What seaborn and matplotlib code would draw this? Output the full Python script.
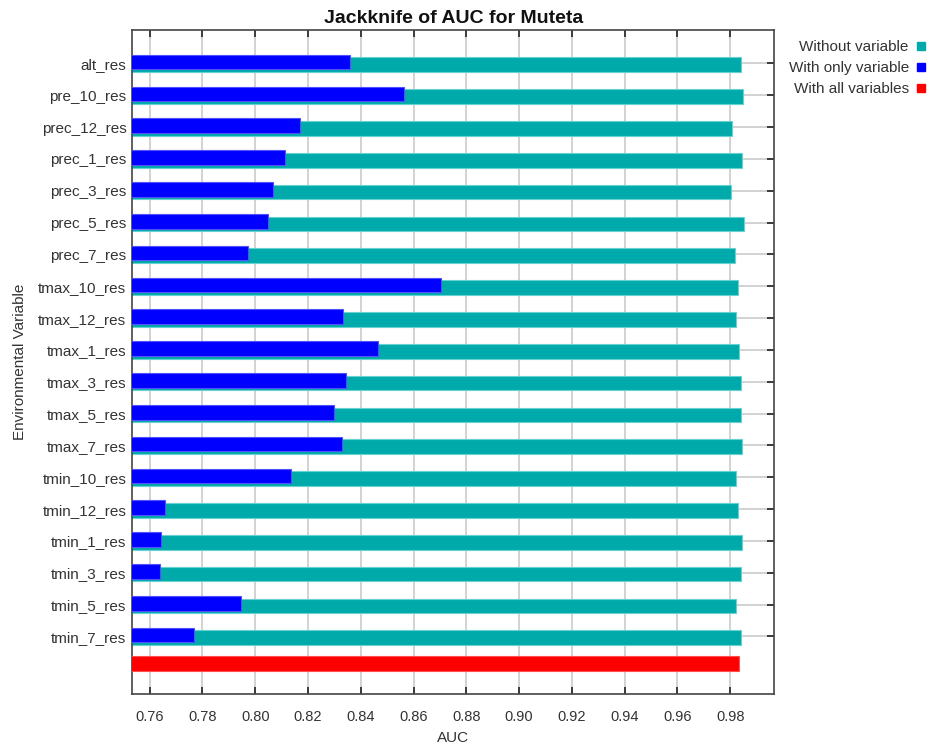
import matplotlib
matplotlib.use("Agg")
import matplotlib.pyplot as plt
from matplotlib.lines import Line2D
import numpy as np
import pandas as pd
import seaborn as sns

# Jackknife results (AUC) for each environmental variable
variables = [
    "alt_res", "pre_10_res", "prec_12_res", "prec_1_res", "prec_3_res",
    "prec_5_res", "prec_7_res", "tmax_10_res", "tmax_12_res", "tmax_1_res",
    "tmax_3_res", "tmax_5_res", "tmax_7_res", "tmin_10_res", "tmin_12_res",
    "tmin_1_res", "tmin_3_res", "tmin_5_res", "tmin_7_res",
]
without_variable = [
    0.9839, 0.9849, 0.9808, 0.9843, 0.9803, 0.9853, 0.9818, 0.9828, 0.9823,
    0.9833, 0.9839, 0.9839, 0.9843, 0.9823, 0.9828, 0.9843, 0.9839, 0.9823,
    0.9839,
]
with_only_variable = [
    0.8358, 0.8565, 0.8170, 0.8114, 0.8068, 0.8048, 0.7971, 0.8703, 0.8332,
    0.8464, 0.8343, 0.8297, 0.8328, 0.8134, 0.7657, 0.7642, 0.7638, 0.7947,
    0.7769,
]
with_all_variables = 0.9833

x_ticks = [0.76, 0.78, 0.80, 0.82, 0.84, 0.86, 0.88, 0.90, 0.92, 0.94, 0.96, 0.98]

TEAL = "#00aaaa"
BLUE = "#0000ff"
RED = "#ff0000"
GRID = "#d2d2d2"

sns.set_theme(style="white")
plt.rcParams["font.family"] = ["Liberation Sans", "DejaVu Sans"]

fig = plt.figure(figsize=(9.28, 7.44), dpi=100)
ax = fig.add_axes([0.1422, 0.0676, 0.6922, 0.8921])

rows = np.arange(len(variables), dtype=float)
df = pd.DataFrame({
    "variable": variables,
    "row": rows,
    "without": without_variable,
    "only": with_only_variable,
})
df["row_without"] = df["row"] + 0.042
df["row_only"] = df["row"] - 0.042

bar_w = 0.465
sns.barplot(data=df, x="without", y="row_without", orient="h", native_scale=True,
            width=bar_w, color=TEAL, saturation=1, edgecolor="#66d2d2",
            linewidth=0.8, ax=ax, zorder=2)
sns.barplot(data=df, x="only", y="row_only", orient="h", native_scale=True,
            width=bar_w, color=BLUE, saturation=1, edgecolor="#5050ff",
            linewidth=0.8, ax=ax, zorder=3)
all_df = pd.DataFrame({"auc": [with_all_variables], "row": [len(variables) - 0.16]})
sns.barplot(data=all_df, x="auc", y="row", orient="h", native_scale=True,
            width=bar_w, color=RED, saturation=1, edgecolor="#ff5050",
            linewidth=0.8, ax=ax, zorder=3)

ax.set_xlim(0.7533, 0.9967)
ax.set_ylim(19.80, -1.05)
ax.set_xticks(x_ticks)
ax.set_xticklabels([f"{t:.2f}" for t in x_ticks], fontsize=10.5, color="#333333")
ax.set_yticks(rows)
ax.set_yticklabels(variables, fontsize=11, color="#333333")

ax.grid(True, axis="both", color=GRID, linewidth=1.4, zorder=0)
ax.set_axisbelow(True)
for s in ax.spines.values():
    s.set_color("#444444")
    s.set_linewidth(1.2)

ax.tick_params(axis="x", direction="in", length=5, width=1.2, color="#222222",
               top=True, bottom=True, pad=12)
ax.tick_params(axis="y", direction="in", length=5, width=1.2, color="#222222",
               left=False, right=True, pad=4)

ax.set_xlabel("AUC", fontsize=11, color="#333333", labelpad=5)
ax.set_ylabel("Environmental Variable", fontsize=11, color="#333333", labelpad=8)
ax.set_title("Jackknife of AUC for Muteta", fontsize=14, fontweight="bold",
             color="#111111", pad=5)

handles = [
    Line2D([], [], linestyle="none", marker="s", markersize=6, color=TEAL),
    Line2D([], [], linestyle="none", marker="s", markersize=6, color=BLUE),
    Line2D([], [], linestyle="none", marker="s", markersize=6, color=RED),
]
fig.legend(handles, ["Without variable", "With only variable", "With all variables"],
           loc="upper right", bbox_to_anchor=(1.004, 0.954), frameon=False,
           markerfirst=False, fontsize=11, handlelength=0.6, handletextpad=0.5,
           labelspacing=0.45, borderaxespad=0, labelcolor="#333333")

fig.savefig("out.png", dpi=100)
